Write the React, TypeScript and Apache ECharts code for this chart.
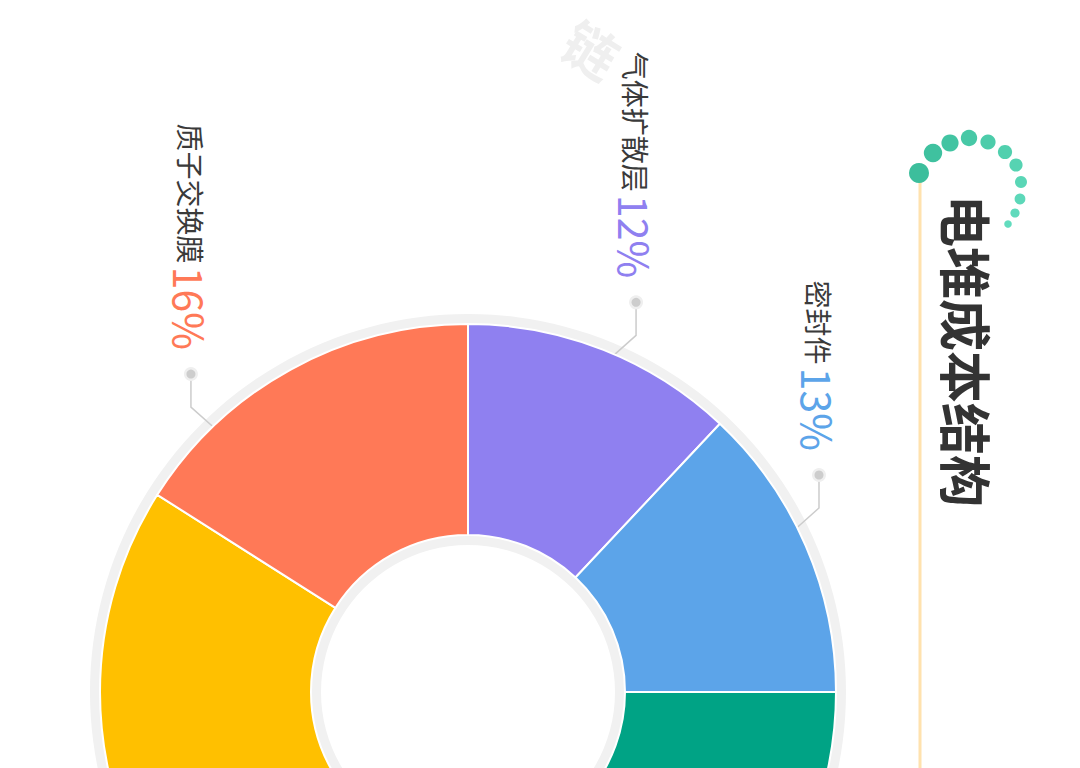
import React, { useEffect, useRef } from "react";
import * as echarts from "echarts";

const names = ["气体扩散层", "密封件", "双极板", "催化剂", "质子交换膜"];
const values = [12, 13, 23, 36, 16];
const colors = ["#8F80F0", "#5CA4E9", "#00A385", "#FFC000", "#FF7957"];
const labelShown = [true, true, false, false, true];
// where along each slice (0 = clockwise start, 1 = end) its label line attaches
const labelAnchorAt = [0.53, 0.44, 0.5, 0.5, 0.24];
const title = "电堆成本结构";
const watermark = "链";

const CX = 468;
const CY = 692;
const R_IN = 157;
const R_OUT = 368;

function anchorGeometry(i: number) {
  const total = values.reduce((a, b) => a + b, 0);
  let cum = 0;
  for (let k = 0; k < i; k++) cum += values[k];
  const frac = (cum + labelAnchorAt[i] * values[i]) / total;
  const theta = ((90 - 360 * frac) * Math.PI) / 180;
  const r = R_OUT - 8;
  const sx = CX + r * Math.cos(theta);
  const sy = CY - r * Math.sin(theta);
  const side = Math.cos(theta) >= 0 ? 1 : -1;
  const bx = sx + side * 28;
  const by = sy - 25;
  const dx = bx;
  const dy = sy - 58;
  return { sx, sy, bx, by, dx, dy };
}

export default function App() {
  const ref = useRef<HTMLDivElement>(null);
  useEffect(() => {
    if (!ref.current) return;
    const chart = echarts.init(ref.current, null, { renderer: "svg" });

    const dots: any[] = [];
    names.forEach((_, i) => {
      if (!labelShown[i]) return;
      const g = anchorGeometry(i);
      dots.push({
        type: "circle",
        shape: { cx: g.dx, cy: g.dy, r: 7 },
        style: { fill: "#EFEFEF" },
        z: 10,
      });
      dots.push({
        type: "circle",
        shape: { cx: g.dx, cy: g.dy, r: 4.5 },
        style: { fill: "#CDCDCD" },
        z: 11,
      });
    });

    const spiral = [
      [919, 173, 10, "#3CBE9C"],
      [933, 153, 9.2, "#3FC19F"],
      [950, 143, 8.6, "#42C4A2"],
      [969, 138, 8.2, "#47C8A6"],
      [988, 142, 7.6, "#4CCCAA"],
      [1005, 152, 7.1, "#51D0AE"],
      [1016, 165, 6.6, "#56D3B2"],
      [1021, 182, 6, "#5AD6B6"],
      [1020, 199, 5.4, "#5DD8B9"],
      [1015, 213, 4.6, "#60DABC"],
      [1008, 224, 3.8, "#62DCBE"],
    ].map((d) => ({
      type: "circle",
      shape: { cx: d[0] as number, cy: d[1] as number, r: d[2] as number },
      style: { fill: d[3] as string },
      z: 6,
    }));

    const option: any = {
      animation: false,
      backgroundColor: "#ffffff",
      graphic: [
        {
          type: "text",
          x: 592,
          y: 48,
          rotation: -0.55,
          style: {
            text: watermark,
            fontSize: 54,
            fontWeight: "bold",
            fontFamily: "Noto Sans CJK SC",
            fill: "#EFEFEF",
            align: "center",
            verticalAlign: "middle",
          },
          z: 0,
        },
        {
          type: "line",
          shape: { x1: 920, y1: 175, x2: 920, y2: 768 },
          style: { stroke: "#FFE2AE", lineWidth: 3 },
          z: 5,
        },
        ...spiral,
        {
          type: "text",
          x: 967,
          y: 195,
          rotation: -Math.PI / 2,
          style: {
            text: title,
            fontSize: 52,
            fontWeight: "bold",
            fontFamily: "Noto Sans CJK SC",
            fill: "#333333",
            align: "left",
            verticalAlign: "middle",
          },
          z: 6,
        },
        ...dots,
      ],
      series: [
        {
          type: "pie",
          silent: true,
          center: [CX, CY],
          radius: [147, 378],
          label: { show: false },
          labelLine: { show: false },
          itemStyle: { color: "#F1F1F1" },
          data: [{ value: 1, name: "" }],
          z: 1,
        },
        {
          type: "pie",
          center: [CX, CY],
          radius: [R_IN, R_OUT],
          startAngle: 90,
          clockwise: true,
          avoidLabelOverlap: false,
          itemStyle: { borderColor: "#ffffff", borderWidth: 2 },
          labelLine: {
            show: true,
            lineStyle: { color: "#CCCCCC", width: 1.5 },
          },
          labelLayout: (params: any) => {
            const i = params.dataIndex;
            if (!labelShown[i]) return {};
            const g = anchorGeometry(i);
            return {
              x: g.dx,
              y: g.dy - 24,
              rotate: -90,
              align: "right",
              verticalAlign: "middle",
              labelLinePoints: [
                [g.sx, g.sy],
                [g.bx, g.by],
                [g.dx, g.dy],
              ],
            };
          },
          data: names.map((n, i) => ({
            name: n,
            value: values[i],
            itemStyle: { color: colors[i] },
            label: labelShown[i]
              ? {
                  show: true,
                  formatter: (p: any) => `{n|${p.name}} {p|${p.value}%}`,
                  rich: {
                    n: {
                      fontSize: 28,
                      color: "#3A3A3A",
                      fontFamily: "Noto Sans CJK SC",
                    },
                    p: {
                      fontSize: 41,
                      color: colors[i],
                      fontFamily: "Noto Sans CJK SC",
                      fontWeight: "normal",
                    },
                  },
                }
              : { show: false },
            labelLine: { show: labelShown[i] },
          })),
          z: 2,
        },
      ],
    };
    chart.setOption(option);
    return () => chart.dispose();
  }, []);
  return (
    <div
      ref={ref}
      style={{ position: "fixed", left: 0, top: 0, width: 1080, height: 768 }}
    />
  );
}
